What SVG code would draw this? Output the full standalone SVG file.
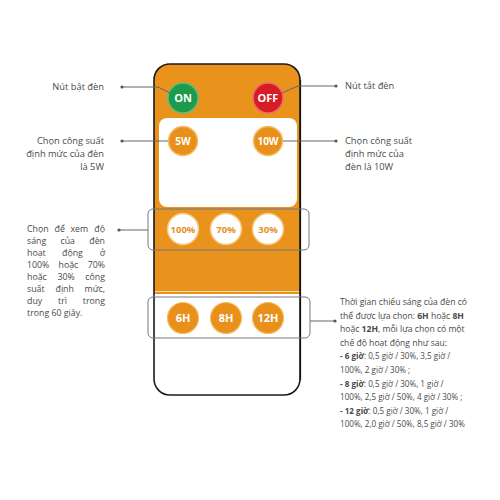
<svg xmlns="http://www.w3.org/2000/svg" width="500" height="500" viewBox="0 0 500 500">
<style>
.lbl{font-family:"Open Sans","Noto Sans",sans-serif;font-size:9.3px;fill:#4a4a4a}
.par{font-family:"Open Sans","Noto Sans",sans-serif;font-size:8.8px;fill:#4a4a4a}
.rp{font-family:"Open Sans","Noto Sans",sans-serif;font-size:8.6px;fill:#4a4a4a}
.sm{font-family:"Open Sans","Noto Sans",sans-serif;font-size:8.1px;fill:#4a4a4a}
.b{font-weight:700}
.btn{font-family:"Open Sans","Noto Sans",sans-serif;font-weight:700;text-anchor:middle}
.wt{fill:#ffffff;font-size:11px}
.ot{fill:#E8901A;font-size:9.5px}
.con{fill:none;stroke:#666;stroke-width:1}
.dot{fill:#555}
.brk{fill:none;stroke:#737884;stroke-width:1}
</style>
<rect width="500" height="500" fill="#ffffff"/>
<g id="remote">
<rect x="154" y="64" width="146" height="331" rx="16" fill="#ffffff"/>
<path d="M154,294 V80 Q154,64 170,64 H284 Q300,64 300,80 V294 Z" fill="#EA931C"/>
<line x1="154" y1="291.5" x2="300" y2="291.5" stroke="#F9D9A6" stroke-width="1.2"/>
<rect x="159" y="118" width="138" height="89" rx="8" fill="#ffffff"/>
<rect x="154" y="64" width="146" height="331" rx="16" fill="none" stroke="#1a1a1a" stroke-width="1.6"/>
<line x1="300.5" y1="80" x2="300.5" y2="380" stroke="#111" stroke-width="1.2"/>
</g>
<g id="brackets">
<rect x="148" y="209" width="161" height="41" rx="5" class="brk"/>
<rect x="148" y="297" width="162" height="41" rx="5" class="brk"/>
</g>
<g id="btn-on"><circle cx="183" cy="98" r="15" fill="#1D9A4A" stroke="#5DBE7C" stroke-width="1.5"/><text x="183" y="102" class="btn wt">ON</text></g>
<g id="btn-off"><circle cx="268" cy="98" r="15" fill="#D71C24" stroke="#EC6A6A" stroke-width="1.5"/><text x="268" y="102" class="btn wt">OFF</text></g>
<g id="btn-5w"><circle cx="183" cy="141" r="14.5" fill="#E8901A" stroke="#F5BC6A" stroke-width="1.5"/><text x="183" y="145" class="btn wt" style="font-size:10px">5W</text></g>
<g id="btn-10w"><circle cx="268" cy="141" r="14.5" fill="#E8901A" stroke="#F5BC6A" stroke-width="1.5"/><text x="268" y="145" class="btn wt" style="font-size:10px">10W</text></g>
<g id="btn-100"><circle cx="183" cy="229" r="15.5" fill="#ffffff" stroke="#F6C682" stroke-width="1.5"/><text x="183" y="232.5" class="btn ot">100%</text></g>
<g id="btn-70"><circle cx="226" cy="229" r="15.5" fill="#ffffff" stroke="#F6C682" stroke-width="1.5"/><text x="226" y="232.5" class="btn ot">70%</text></g>
<g id="btn-30"><circle cx="268" cy="229" r="15.5" fill="#ffffff" stroke="#F6C682" stroke-width="1.5"/><text x="268" y="232.5" class="btn ot">30%</text></g>
<g id="btn-6h"><circle cx="183" cy="318" r="15.5" fill="#E8901A" stroke="#F5BC6A" stroke-width="1.2"/><text x="183" y="322" class="btn wt">6H</text></g>
<g id="btn-8h"><circle cx="226" cy="318" r="15.5" fill="#E8901A" stroke="#F5BC6A" stroke-width="1.2"/><text x="226" y="322" class="btn wt">8H</text></g>
<g id="btn-12h"><circle cx="268" cy="318" r="15.5" fill="#E8901A" stroke="#F5BC6A" stroke-width="1.2"/><text x="268" y="322" class="btn wt">12H</text></g>
<g id="connectors">
<path class="con" d="M122,87 H158 L170,93"/>
<path class="con" d="M336,86 H298 L282,93"/>
<path class="con" d="M122,141 H168"/>
<path class="con" d="M283,141 H336"/>
<path class="con" d="M119,230 H148"/>
<path class="con" d="M310,321 H335"/>
<circle class="dot" cx="122" cy="87" r="1.6"/>
<circle class="dot" cx="336" cy="86" r="1.6"/>
<circle class="dot" cx="122" cy="141" r="1.6"/>
<circle class="dot" cx="336" cy="141" r="1.6"/>
<circle class="dot" cx="119" cy="230" r="1.6"/>
<circle class="dot" cx="335" cy="321" r="1.6"/>
</g>
<g id="label-on"><text x="104" y="90" class="lbl" text-anchor="end">Nút bật đèn</text></g>
<g id="label-5w">
<text x="104" y="144" class="lbl" text-anchor="end">Chọn công suất</text>
<text x="104" y="157" class="lbl" text-anchor="end">định mức của đèn</text>
<text x="104" y="170" class="lbl" text-anchor="end">là 5W</text>
</g>
<g id="label-off"><text x="345" y="89" class="lbl">Nút tắt đèn</text></g>
<g id="label-10w">
<text x="345" y="144" class="lbl">Chọn công suất</text>
<text x="345" y="157" class="lbl">định mức của</text>
<text x="345" y="170" class="lbl">đèn là 10W</text>
</g>
<g id="label-brightness" class="par">
<text y="232"><tspan x="27">Chọn</tspan><tspan x="54.5">để</tspan><tspan x="70.5">xem</tspan><tspan x="105" text-anchor="end">độ</tspan></text>
<text y="244"><tspan x="27">sáng</tspan><tspan x="60.5">của</tspan><tspan x="105" text-anchor="end">đèn</tspan></text>
<text y="256"><tspan x="27">hoạt</tspan><tspan x="62">động</tspan><tspan x="105" text-anchor="end">ở</tspan></text>
<text y="268"><tspan x="27">100%</tspan><tspan x="58.5">hoặc</tspan><tspan x="105" text-anchor="end">70%</tspan></text>
<text y="280"><tspan x="27">hoặc</tspan><tspan x="57.5">30%</tspan><tspan x="105" text-anchor="end">công</tspan></text>
<text y="292"><tspan x="27">suất</tspan><tspan x="55.5">định</tspan><tspan x="105" text-anchor="end">mức,</tspan></text>
<text y="304"><tspan x="27">duy</tspan><tspan x="58">trì</tspan><tspan x="105" text-anchor="end">trong</tspan></text>
<text y="316" x="27">trong 60 giây.</text>
</g>
<g id="label-time">
<text x="340" y="305" class="rp">Thời gian chiếu sáng của đèn có</text>
<text x="340" y="319" class="rp">thể được lựa chọn: <tspan class="b">6H</tspan> hoặc <tspan class="b">8H</tspan></text>
<text x="340" y="332" class="rp">hoặc <tspan class="b">12H</tspan>, mỗi lựa chọn có một</text>
<text x="340" y="346" class="rp">chế độ hoạt động như sau:</text>
<text x="340" y="359" class="sm"><tspan class="b">- 6 giờ</tspan>: 0,5 giờ / 30%, 3,5 giờ /</text>
<text x="340" y="373" class="sm">100%, 2 giờ / 30% ;</text>
<text x="340" y="387" class="sm"><tspan class="b">- 8 giờ</tspan>: 0,5 giờ / 30%, 1 giờ /</text>
<text x="340" y="400" class="sm">100%, 2,5 giờ / 50%, 4 giờ / 30% ;</text>
<text x="340" y="414" class="sm"><tspan class="b">- 12 giờ</tspan>: 0,5 giờ / 30%, 1 giờ /</text>
<text x="340" y="427" class="sm">100%, 2,0 giờ / 50%, 8,5 giờ / 30%</text>
</g>
</svg>
